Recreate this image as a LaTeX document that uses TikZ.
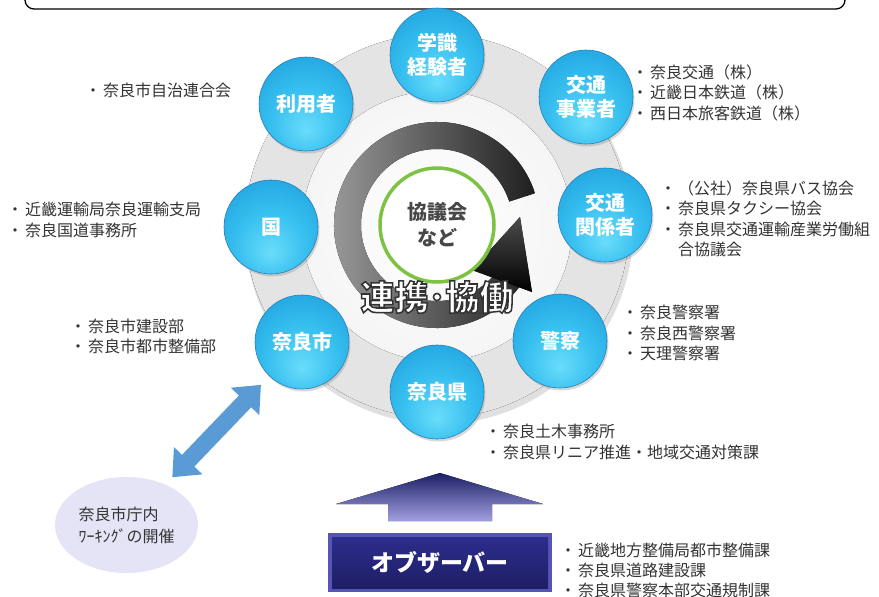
\documentclass[tikz,border=0pt]{standalone}
\usepackage{fontspec}
\newfontfamily\jp{Noto Sans CJK JP}
\usetikzlibrary{shapes.geometric,arrows.meta,shadows,calc}
\definecolor{txt}{HTML}{333333}
\definecolor{bA}{HTML}{6ADCFA}
\definecolor{bB}{HTML}{38C0F0}
\definecolor{bC}{HTML}{1FA3DF}
\definecolor{bD}{HTML}{1A8CCF}
\definecolor{bE}{HTML}{1470AE}
\definecolor{rim}{HTML}{2A7DB5}
\definecolor{grn}{HTML}{7DC242}
\definecolor{lav}{HTML}{E4E4F6}
\definecolor{arrb}{HTML}{5B9BD5}
\definecolor{navA}{HTML}{1E1E66}
\definecolor{navB}{HTML}{2D2D8C}
\definecolor{navL}{HTML}{5555B5}
\definecolor{navP}{HTML}{A0A0E0}
\definecolor{ringA}{HTML}{E4E4E4}
\definecolor{ringB}{HTML}{D0D0D0}
\definecolor{ringC}{HTML}{BBBBBB}
\definecolor{inA}{HTML}{FFFFFF}
\definecolor{inB}{HTML}{F4F4F4}
\definecolor{inC}{HTML}{E6E6E6}
\definecolor{inD}{HTML}{D8D8D8}
\pgfdeclareradialshading{bluesph}{\pgfpoint{0bp}{-14bp}}{color(0bp)=(bA); color(18bp)=(bB); color(36bp)=(bC); color(50bp)=(bD); color(64bp)=(bE)}
\pgfdeclareradialshading{ringsh}{\pgfpoint{0bp}{0bp}}{color(0bp)=(ringA); color(34bp)=(ringA); color(42bp)=(ringB); color(50bp)=(ringC)}
\pgfdeclareradialshading{innersh}{\pgfpoint{0bp}{0bp}}{color(0bp)=(inA); color(28bp)=(inB); color(44bp)=(inC); color(50bp)=(inD)}
\newcommand\bl{\makebox[13pt][l]{\hspace*{-5pt}・}}
\newcommand\myoutl[1]{{\addfontfeatures{FakeBold=4.5}\special{pdf:code 0.2 0.2 0.2 RG}#1}}
\begin{document}
\begin{tikzpicture}[x=1pt,y=1pt,
  sph/.style={circle,minimum size=94pt,inner sep=0pt,shading=bluesph,draw=rim,line width=0.6pt,
    drop shadow={shadow xshift=1.5pt,shadow yshift=-2.5pt,opacity=0.3},
    text=white,font=\jp\bfseries\fontsize{20}{24}\selectfont,align=center},
  lst/.style={anchor=north west,inner sep=0pt,align=left,text=txt,font=\jp\fontsize{16}{20.5}\selectfont},
  dblar/.style={draw=arrb,line width=17pt,{Triangle[length=23pt,width=38pt]}-{Triangle[length=23pt,width=38pt]}},
]
\useasboundingbox (0,0) rectangle (879,-597);
\clip (0,0) rectangle (879,-597);
% top box
\draw[line width=1.3pt,rounded corners=9pt] (25,20) rectangle (845,-9);
% background disks
\fill[black,opacity=0.12] (439,-230) circle[radius=194];
\fill[shading=ringsh] (437,-226) circle[radius=192];
\fill[shading=innersh] (437,-226) circle[radius=135];
% C arc
\begin{scope}[shift={(437,-225)}]
\fill[left color=black!38,right color=black!88] (18:103) arc[start angle=18,end angle=325,radius=103] -- (325:76) arc[start angle=325,end angle=18,radius=76] -- cycle;
\end{scope}
\fill[top color=black!70,bottom color=black] (472,-270) -- (520,-217) -- (532,-292) -- cycle;
% centre
\node[circle,minimum size=114pt,inner sep=0pt,draw=grn,line width=3.5pt,fill=white,text=black!72,font=\jp\bfseries\fontsize{20}{26}\selectfont,align=center] (kyo) at (437,-225) {協議会\\など};
% spheres
\node[sph] (gak) at (437,-55) {学識\\経験者};
\node[sph] (riy) at (306,-104) {利用者};
\node[sph] (jig) at (586,-97) {交通\\事業者};
\node[sph] (kuni) at (271,-227) {国};
\node[sph] (kan) at (605,-215) {交通\\関係者};
\node[sph] (shi) at (302,-342) {奈良市};
\node[sph] (kei) at (560,-341) {警察};
\node[sph] (ken) at (437,-392) {奈良県};
% renkei
\node[inner sep=0pt,text=white,font=\jp\bfseries\fontsize{34}{34}\selectfont] (ren) at (437,-297) {\myoutl{連携･協働}};
% lists
\node[lst] (la) at (90,-82.3) {\bl 奈良市自治連合会};
\node[lst] (lb) at (637,-64.3) {\bl 奈良交通（株）\\\bl 近畿日本鉄道（株）\\\bl 西日本旅客鉄道（株）};
\node[lst] (lc) at (665,-180.3) {\bl （公社）奈良県バス協会\\\bl 奈良県タクシー協会\\\bl 奈良県交通運輸産業労働組\\\hspace*{13pt}合協議会};
\node[lst] (ld) at (12,-202.3) {\bl 近畿運輸局奈良運輸支局\\\bl 奈良国道事務所};
\node[lst] (le) at (75,-318.3) {\bl 奈良市建設部\\\bl 奈良市都市整備部};
\node[lst] (lf) at (627,-305.3) {\bl 奈良警察署\\\bl 奈良西警察署\\\bl 天理警察署};
\node[lst] (lg) at (490,-424.3) {\bl 奈良土木事務所\\\bl 奈良県リニア推進・地域交通対策課};
\node[lst,font=\jp\fontsize{16}{20}\selectfont] (lh) at (565,-542.3) {\bl 近畿地方整備局都市整備課\\\bl 奈良県道路建設課\\\bl 奈良県警察本部交通規制課};
% working ellipse
\node[ellipse,fill=lav,minimum width=143pt,minimum height=96pt,inner sep=0pt,align=left,text=txt,font=\jp\fontsize{16}{22}\selectfont] (ws) at (126.5,-525) {奈良市庁内\\ﾜｰｷﾝｸﾞの開催};
\draw[dblar,shorten <=10pt,shorten >=12pt] (ws) -- (shi);
% observer arrow and box
\fill[top color=navA,bottom color=navP] (440,-473) -- (543,-504) -- (492,-504) -- (492,-521) -- (388,-521) -- (388,-504) -- (336,-504) -- cycle;
\fill[navL] (328,-533) rectangle (552,-592);
\node[minimum width=216pt,minimum height=51pt,inner sep=0pt,top color=navB,bottom color=navA,text=white,font=\jp\bfseries\fontsize{23}{23}\selectfont] (obs) at (440,-562.5) {オブザーバー};
\end{tikzpicture}
\end{document}
